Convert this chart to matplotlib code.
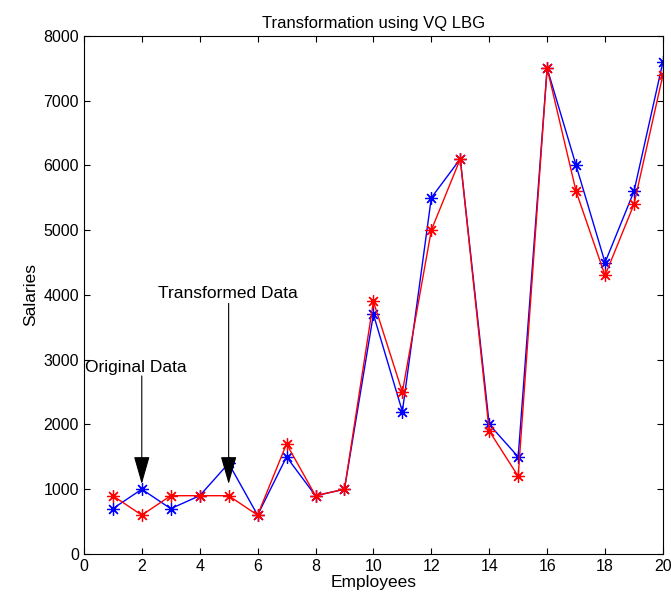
import matplotlib.pyplot as plt

plt.rcParams['font.family'] = ['Liberation Sans', 'DejaVu Sans']

# -----------------------------
# Data
# -----------------------------
employees = list(range(1, 21))
original = [700, 1000, 700, 900, 1400, 600, 1500, 900, 1000, 3700,
            2200, 5500, 6100, 2000, 1500, 7500, 6000, 4500, 5600, 7600]
transformed = [900, 600, 900, 900, 900, 600, 1700, 900, 1000, 3900,
               2500, 5000, 6100, 1900, 1200, 7500, 5600, 4300, 5400, 7400]

# -----------------------------
# Plot
# -----------------------------
fig = plt.figure(figsize=(6.71, 6.11), dpi=100)
ax = fig.add_axes([0.125, 0.0933, 0.863, 0.848])

ax.plot(employees, original, color='blue', lw=1.0, marker=(8, 2, 0), ms=9, mew=0.9)
ax.plot(employees, transformed, color='red', lw=1.0, marker=(8, 2, 0), ms=9, mew=0.9)

# annotations: text and vertical arrows
ax.text(0.05, 2880, 'Original Data', fontsize=12.5, va='center', ha='left')
ax.text(2.55, 4020, 'Transformed Data', fontsize=12.5, va='center', ha='left')
arrow = dict(arrowstyle='-|>,head_length=0.7,head_width=0.2', color='black',
             lw=0.8, mutation_scale=25, shrinkA=0, shrinkB=0)
ax.annotate('', xy=(2, 1080), xytext=(2, 2750), arrowprops=arrow)
ax.annotate('', xy=(5, 1080), xytext=(5, 3870), arrowprops=arrow)

ax.set_xlim(0, 20)
ax.set_ylim(0, 8000)
ax.set_xticks(range(0, 21, 2))
ax.set_yticks(range(0, 8001, 1000))
ax.tick_params(direction='in', top=True, right=True, labelsize=11.5, length=4)
ax.set_title('Transformation using VQ LBG', fontsize=12)
ax.set_xlabel('Employees', fontsize=12.5, labelpad=1)
ax.set_ylabel('Salaries', fontsize=12.5)

fig.savefig('out.png', dpi=100)
